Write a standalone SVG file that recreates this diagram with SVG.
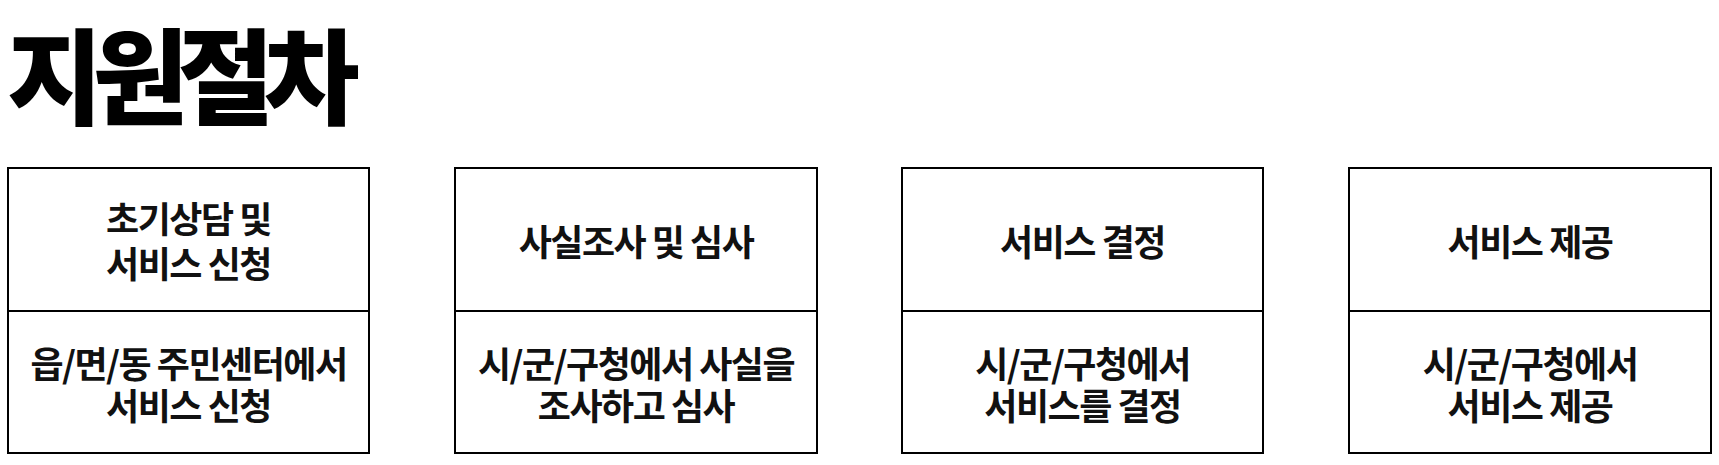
<svg xmlns="http://www.w3.org/2000/svg" width="1719" height="465" viewBox="0 0 1719 465">
<style>
.box{fill:#fff;stroke:#000;stroke-width:2}
.div{stroke:#000;stroke-width:2}
.t{font-family:"Noto Sans CJK KR","Noto Sans",sans-serif;font-weight:700;font-size:36px;fill:#111;text-anchor:middle;dominant-baseline:central;letter-spacing:-1.5px}
.title{font-family:"Noto Sans CJK KR","Noto Sans",sans-serif;font-weight:900;font-size:104px;fill:#000;dominant-baseline:central;letter-spacing:-10px}
</style>
<rect width="1719" height="465" fill="#fff"/>
<text class="title" x="7" y="71">지원절차</text>
<g id="step1">
<rect class="box" x="8" y="168" width="361" height="285"/>
<line class="div" x1="8" y1="311" x2="369" y2="311"/>
<text class="t" x="188.5" y="217">초기상담 및</text>
<text class="t" x="188.5" y="262">서비스 신청</text>
<text class="t" x="188.5" y="362">읍/면/동 주민센터에서</text>
<text class="t" x="188.5" y="404">서비스 신청</text>
</g>
<g id="step2">
<rect class="box" x="455" y="168" width="362" height="285"/>
<line class="div" x1="455" y1="311" x2="817" y2="311"/>
<text class="t" x="636" y="240">사실조사 및 심사</text>
<text class="t" x="636" y="362">시/군/구청에서 사실을</text>
<text class="t" x="636" y="404">조사하고 심사</text>
</g>
<g id="step3">
<rect class="box" x="902" y="168" width="361" height="285"/>
<line class="div" x1="902" y1="311" x2="1263" y2="311"/>
<text class="t" x="1082.5" y="240">서비스 결정</text>
<text class="t" x="1082.5" y="362">시/군/구청에서</text>
<text class="t" x="1082.5" y="404">서비스를 결정</text>
</g>
<g id="step4">
<rect class="box" x="1349" y="168" width="362" height="285"/>
<line class="div" x1="1349" y1="311" x2="1711" y2="311"/>
<text class="t" x="1530" y="240">서비스 제공</text>
<text class="t" x="1530" y="362">시/군/구청에서</text>
<text class="t" x="1530" y="404">서비스 제공</text>
</g>
<g id="connectors"/>
</svg>
